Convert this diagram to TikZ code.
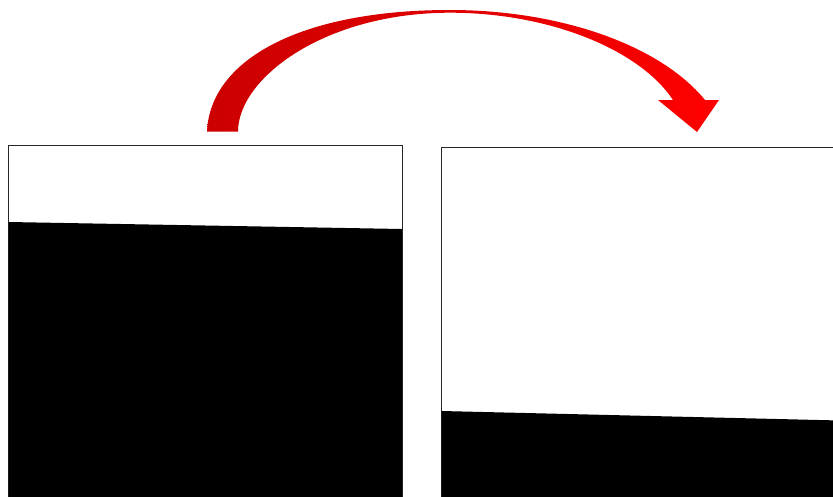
\documentclass[tikz,border=0pt]{standalone}
\begin{document}
\begin{tikzpicture}[x=1pt,y=-1pt,
  frame/.style={draw=black!85,line width=1pt,fill=white},
  liquid/.style={fill=black,draw=none}]
\useasboundingbox (0,0) rectangle (833,496);
\begin{scope}
\clip (0,0) rectangle (833,496);
% left container
\draw[frame] (8,145) rectangle (402.5,500);
\fill[liquid] (8.5,222) -- (402,229) -- (402,500) -- (8.5,500) -- cycle;
% right container
\draw[frame] (441,147) rectangle (840,500);
\fill[liquid] (441.5,411) -- (840,420.5) -- (840,500) -- (441.5,500) -- cycle;
% curved arrow
\shade[left color=red!80!black,right color=red,middle color=red!88!black]
  (207,131.7) .. controls (210,60) and (300,10) .. (450,10)
  .. controls (560,10) and (660,45) .. (705,100)
  -- (719,100) -- (697,132) -- (658,100) -- (673,100)
  .. controls (640,50) and (550,12.7) .. (450,12.7)
  .. controls (325,12.7) and (238,78) .. (238,131.7) -- cycle;
\end{scope}
\end{tikzpicture}
\end{document}
